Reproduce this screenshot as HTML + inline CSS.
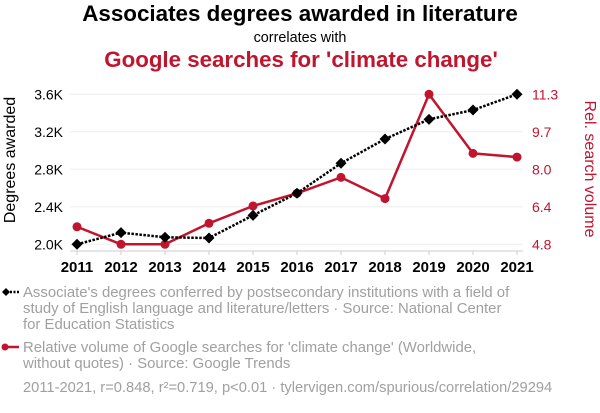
<!DOCTYPE html>
<html><head><meta charset="utf-8"><style>
body{margin:0;background:#fff;width:600px;height:408px;overflow:hidden;font-family:"Liberation Sans",sans-serif}
svg text{font-family:"Liberation Sans",sans-serif}
</style></head><body>
<svg id="chart" width="600" height="408">
<text x="300" y="21" text-anchor="middle" font-size="22.4" font-weight="bold" fill="#000">Associates degrees awarded in literature</text>
<text x="300" y="42" text-anchor="middle" font-size="14.4" fill="#000">correlates with</text>
<text x="301" y="67" text-anchor="middle" font-size="22.3" font-weight="bold" fill="#c0152f">Google searches for 'climate change'</text>
<g id="grid"></g><g id="axes"></g><g id="series"></g>
<text transform="translate(15,160) rotate(-90)" text-anchor="middle" font-size="16" fill="#000">Degrees awarded</text>
<text transform="translate(585,169) rotate(90)" text-anchor="middle" font-size="16" fill="#c0152f">Rel. search volume</text>
<g>
<line x1="3" y1="292" x2="19" y2="292" stroke="#000" stroke-width="2.5" stroke-dasharray="2,1.5"/>
<path d="M6,288 L10,292 L6,296 L2,292Z" fill="#000"/>
<text font-size="14.9" fill="#a0a0a0"><tspan x="23" y="297">Associate's degrees conferred by postsecondary institutions with a field of</tspan><tspan x="23" y="313">study of English language and literature/letters · Source: National Center</tspan><tspan x="23" y="329">for Education Statistics</tspan></text>
</g>
<g>
<line x1="3" y1="347" x2="19" y2="347" stroke="#c0152f" stroke-width="2.5"/>
<circle cx="5" cy="347" r="3.5" fill="#c0152f"/>
<text font-size="14.9" fill="#a0a0a0"><tspan x="23" y="352">Relative volume of Google searches for 'climate change' (Worldwide,</tspan><tspan x="23" y="368">without quotes) · Source: Google Trends</tspan></text>
</g>
<text x="23" y="392" font-size="14.7" fill="#a0a0a0">2011-2021, r=0.848, r²=0.719, p&lt;0.01 · tylervigen.com/spurious/correlation/29294</text>
</svg>
<script>
const years=[2011,2012,2013,2014,2015,2016,2017,2018,2019,2020,2021];
const degrees=[2000,2124,2075,2067,2309,2544,2864,3123,3333,3432,3600];
const searches=[5.56,4.8,4.8,5.71,6.46,7.01,7.70,6.78,11.3,8.74,8.58];
const leftTicks=[2000,2400,2800,3200,3600];
const leftTickLabels=["2.0K","2.4K","2.8K","3.2K","3.6K"];
const rightTickLabels=["4.8","6.4","8.0","9.7","11.3"];
const NS="http://www.w3.org/2000/svg";
const x=y=>77+(y-2011)*(517-77)/10;
const yL=v=>244.3-(v-2000)*150/1600;
const yR=v=>244.3-(v-4.8)*150/6.5;
function mk(t,a,p){const e=document.createElementNS(NS,t);for(const k in a)e.setAttribute(k,a[k]);p.appendChild(e);return e;}
const grid=document.getElementById('grid'),axes=document.getElementById('axes'),ser=document.getElementById('series');
leftTicks.forEach((v,i)=>{
 const g=mk('line',{x1:70,x2:523,y1:yL(v),y2:yL(v),stroke:'#eee','stroke-width':1},grid);
 
 
 const t=mk('text',{x:63,y:yL(v)+5,'text-anchor':'end','font-size':14,fill:'#000'},axes);t.textContent=leftTickLabels[i];
 
 
 const r=mk('text',{x:532,y:yL(v)+5,'font-size':14,fill:'#c0152f'},axes);r.textContent=rightTickLabels[i];
 
 
});
const base=mk('line',{x1:70,x2:523,y1:251,y2:251,stroke:'#ccc'},axes);


years.forEach(yr=>{
 mk('line',{x1:x(yr),x2:x(yr),y1:251,y2:255,stroke:'#ccc'},axes);
 const t=mk('text',{x:x(yr),y:272,'text-anchor':'middle','font-size':15,'font-weight':'bold',fill:'#000'},axes);t.textContent=yr;
 
 
});
const rp=mk('polyline',{points:years.map((yr,i)=>x(yr)+','+yR(searches[i])).join(' '),fill:'none',stroke:'#c0152f','stroke-width':2.5,'stroke-linejoin':'round'},ser);


years.forEach((yr,i)=>{const c=mk('circle',{cx:x(yr),cy:yR(searches[i]),r:4.5,fill:'#c0152f'},ser);
 
 });
const bp=mk('polyline',{points:years.map((yr,i)=>x(yr)+','+yL(degrees[i])).join(' '),fill:'none',stroke:'#000','stroke-width':2.5,'stroke-dasharray':'2.5,1.5'},ser);


years.forEach((yr,i)=>{const cx=x(yr),cy=yL(degrees[i]);
 const d=mk('path',{d:`M${cx},${cy-5.5}L${cx+5.5},${cy}L${cx},${cy+5.5}L${cx-5.5},${cy}Z`,fill:'#000'},ser);
 
 });
</script>
</body></html>
